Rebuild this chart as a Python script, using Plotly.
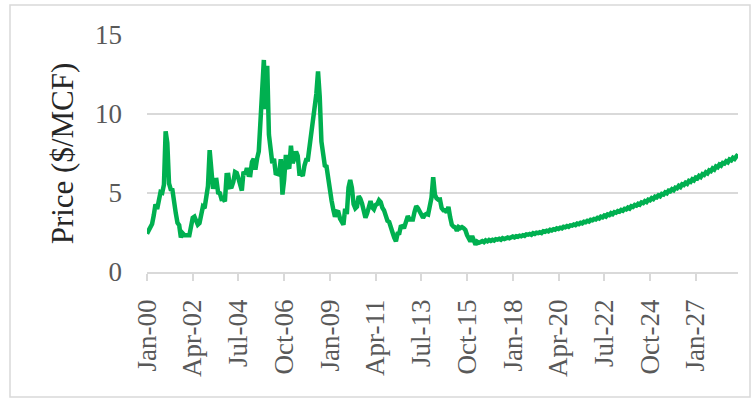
import pandas as pd
import plotly.graph_objects as go

# Monthly price ($/MCF), Jan-2000 .. Feb-2029
p2000 = [2.42, 2.66, 2.79, 3.04, 3.59, 4.29, 3.99, 4.43, 5.06, 5.02, 5.52, 8.90]
p2001 = [8.17, 5.61, 5.23, 5.19, 4.19, 3.72, 3.11, 2.97, 2.19, 2.46, 2.34, 2.30]
p2002 = [2.32, 2.32, 3.03, 3.43, 3.50, 3.26, 2.99, 3.09, 3.55, 4.13, 4.04, 4.74]
p2003 = [5.43, 7.71, 5.93, 5.26, 5.81, 5.82, 5.03, 4.99, 4.62, 4.63, 4.47, 6.13]
p2004 = [6.14, 5.37, 5.39, 5.71, 6.33, 6.27, 5.93, 5.41, 5.15, 6.35, 6.17, 6.58]
p2005 = [6.15, 6.14, 6.96, 7.16, 6.47, 7.18, 7.63, 9.53, 11.75, 13.42, 10.30, 13.05]
p2006 = [8.69, 7.54, 6.89, 7.16, 6.25, 6.21, 6.17, 7.14, 4.90, 5.85, 7.41, 6.73]
p2007 = [6.55, 8.00, 6.89, 7.16, 7.63, 7.35, 6.22, 6.22, 6.08, 6.74, 7.10, 7.11]
p2008 = [7.99, 8.54, 9.41, 10.18, 11.27, 12.69, 11.09, 8.26, 7.67, 6.74, 6.68, 5.82]
p2009 = [5.24, 4.52, 3.96, 3.50, 3.83, 3.80, 3.38, 3.14, 2.99, 4.01, 3.66, 5.35]
p2010 = [5.83, 5.32, 4.29, 4.03, 4.14, 4.80, 4.63, 4.32, 3.89, 3.43, 3.71, 4.25]
p2011 = [4.49, 4.09, 3.97, 4.24, 4.31, 4.54, 4.42, 4.06, 3.90, 3.57, 3.24, 3.17]
p2012 = [2.67, 2.50, 2.17, 1.95, 2.43, 2.46, 2.95, 2.84, 2.85, 3.32, 3.54, 3.34]
p2013 = [3.33, 3.33, 3.81, 4.17, 4.04, 3.83, 3.62, 3.43, 3.62, 3.68, 3.64, 4.24]
p2014 = [4.71, 6.00, 4.90, 4.66, 4.58, 4.59, 4.05, 3.91, 3.92, 3.78, 4.12, 3.48]
p2015 = [2.99, 2.87, 2.83, 2.61, 2.85, 2.78, 2.84, 2.77, 2.66, 2.34, 2.09, 1.93]
p2016 = [2.28, 1.99, 1.73, 1.92, 1.85, 1.90, 1.96, 1.89, 2.00, 1.94, 2.03, 1.97]
p2017 = [2.04, 1.99, 2.08, 2.05, 2.10, 2.04, 2.14, 2.09, 2.12, 2.18, 2.13, 2.20]
p2018 = [2.24, 2.19, 2.26, 2.23, 2.30, 2.26, 2.33, 2.29, 2.38, 2.36, 2.41, 2.36]
p2019 = [2.46, 2.41, 2.49, 2.46, 2.52, 2.47, 2.58, 2.55, 2.61, 2.57, 2.67, 2.63]
p2020 = [2.71, 2.67, 2.76, 2.72, 2.80, 2.76, 2.86, 2.83, 2.91, 2.86, 2.95, 2.93]
p2021 = [3.01, 2.97, 3.07, 3.03, 3.12, 3.08, 3.18, 3.15, 3.24, 3.19, 3.30, 3.27]
p2022 = [3.36, 3.33, 3.43, 3.38, 3.50, 3.46, 3.57, 3.51, 3.64, 3.60, 3.72, 3.66]
p2023 = [3.79, 3.75, 3.86, 3.82, 3.93, 3.88, 4.00, 3.96, 4.08, 4.02, 4.16, 4.12]
p2024 = [4.24, 4.20, 4.32, 4.26, 4.40, 4.36, 4.49, 4.43, 4.58, 4.54, 4.67, 4.61]
p2025 = [4.76, 4.72, 4.85, 4.79, 4.94, 4.90, 5.04, 4.98, 5.14, 5.10, 5.24, 5.18]
p2026 = [5.34, 5.30, 5.45, 5.38, 5.55, 5.51, 5.65, 5.58, 5.76, 5.71, 5.87, 5.80]
p2027 = [5.97, 5.92, 6.08, 6.01, 6.19, 6.14, 6.31, 6.24, 6.43, 6.38, 6.55, 6.48]
p2028 = [6.68, 6.63, 6.80, 6.73, 6.90, 6.86, 7.01, 6.94, 7.12, 7.07, 7.23, 7.16]
p2029 = [7.32, 7.45]

price = (p2000 + p2001 + p2002 + p2003 + p2004 + p2005 + p2006 + p2007 + p2008
         + p2009 + p2010 + p2011 + p2012 + p2013 + p2014 + p2015 + p2016 + p2017
         + p2018 + p2019 + p2020 + p2021 + p2022 + p2023 + p2024 + p2025 + p2026
         + p2027 + p2028 + p2029)

months = [d.strftime("%b-%y") for d in pd.date_range("2000-01-01", periods=len(price), freq="MS")]

tick_labels = ["Jan-00", "Apr-02", "Jul-04", "Oct-06", "Jan-09", "Apr-11", "Jul-13",
               "Oct-15", "Jan-18", "Apr-20", "Jul-22", "Oct-24", "Jan-27"]
y_ticks = [0, 5, 10, 15]

FONT = "Liberation Serif"

fig = go.Figure()
fig.add_trace(go.Scatter(
    x=months, y=price, mode="lines",
    line=dict(color="#00B050", width=4.5),
    hoverinfo="skip", showlegend=False,
))

W, H = 755, 400
ml, mr, mt, mb = 147, 17, 35, 128
pw, ph = W - ml - mr, H - mt - mb

fig.update_layout(
    width=W, height=H,
    margin=dict(l=ml, r=mr, t=mt, b=mb, autoexpand=False),
    paper_bgcolor="white", plot_bgcolor="white",
    font=dict(family=FONT, color="#595959", size=27),
    xaxis=dict(
        type="category",
        range=[0, len(price) - 1],
        tickmode="array", tickvals=tick_labels, ticktext=tick_labels,
        tickangle=-90, automargin=False,
        showgrid=False, zeroline=False,
        showline=True, linecolor="#d9d9d9", linewidth=1.5,
        ticks="outside", ticklen=7, tickcolor="#d9d9d9", tickwidth=1.5,
        ticklabelstandoff=8,
        tickfont=dict(family=FONT, size=27, color="#595959"),
    ),
    yaxis=dict(
        range=[0, 15], automargin=False,
        tickmode="array", tickvals=y_ticks,
        showgrid=True, gridcolor="#d9d9d9", gridwidth=1.5,
        zeroline=False, showline=False, ticks="",
        ticklabelstandoff=24,
        tickfont=dict(family=FONT, size=27, color="#595959"),
        title=dict(text="Price ($/MCF)", standoff=12,
                   font=dict(family=FONT, size=31, color="#262626")),
    ),
    shapes=[dict(
        type="rect", xref="paper", yref="paper",
        x0=(10 - ml) / pw, x1=(750 - ml) / pw,
        y0=(H - mb - 397) / ph, y1=(H - mb - 5) / ph,
        line=dict(color="#d9d9d9", width=1.5), fillcolor="rgba(0,0,0,0)", layer="below",
    )],
)

fig.write_html("out.html", config={"displayModeBar": False},
               post_script="document.body.style.margin='0px';")
